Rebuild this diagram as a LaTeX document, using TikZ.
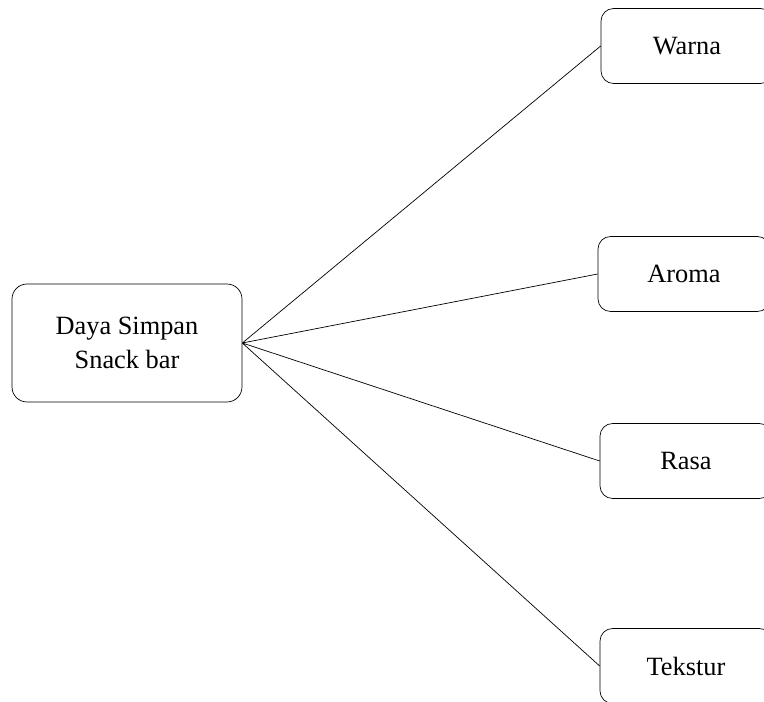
\documentclass[tikz,border=0pt]{standalone}
\usepackage{fontspec}
\setmainfont{Liberation Serif}
\begin{document}
\begin{tikzpicture}[x=0.02cm,y=-0.02cm,
    main/.style = {draw, rounded corners=0.3cm, minimum width=4.6cm, minimum height=2.36cm, align=center, font=\fontsize{15}{19.4}\selectfont},
    item/.style = {draw, rounded corners=0.25cm, minimum width=3.44cm, minimum height=1.5cm, font=\fontsize{15}{19.4}\selectfont}]
                \useasboundingbox (0,0) rectangle (764,702);
                \clip (0,0) rectangle (764,702);
                \node[main] (daya) at (127,343) {Daya Simpan\\Snack bar};
                \node[item] (warna) at (687,46) {Warna};
                \node[item] (aroma) at (684,274) {Aroma};
                \node[item] (rasa) at (686,461) {Rasa};
                \node[item] (tekstur) at (686,666) {Tekstur};
                \path[draw]
                    (daya.east) -- (warna.west)
                    (daya.east) -- (aroma.west)
                    (daya.east) -- (rasa.west)
                    (daya.east) -- (tekstur.west);
            \end{tikzpicture}
\end{document}
